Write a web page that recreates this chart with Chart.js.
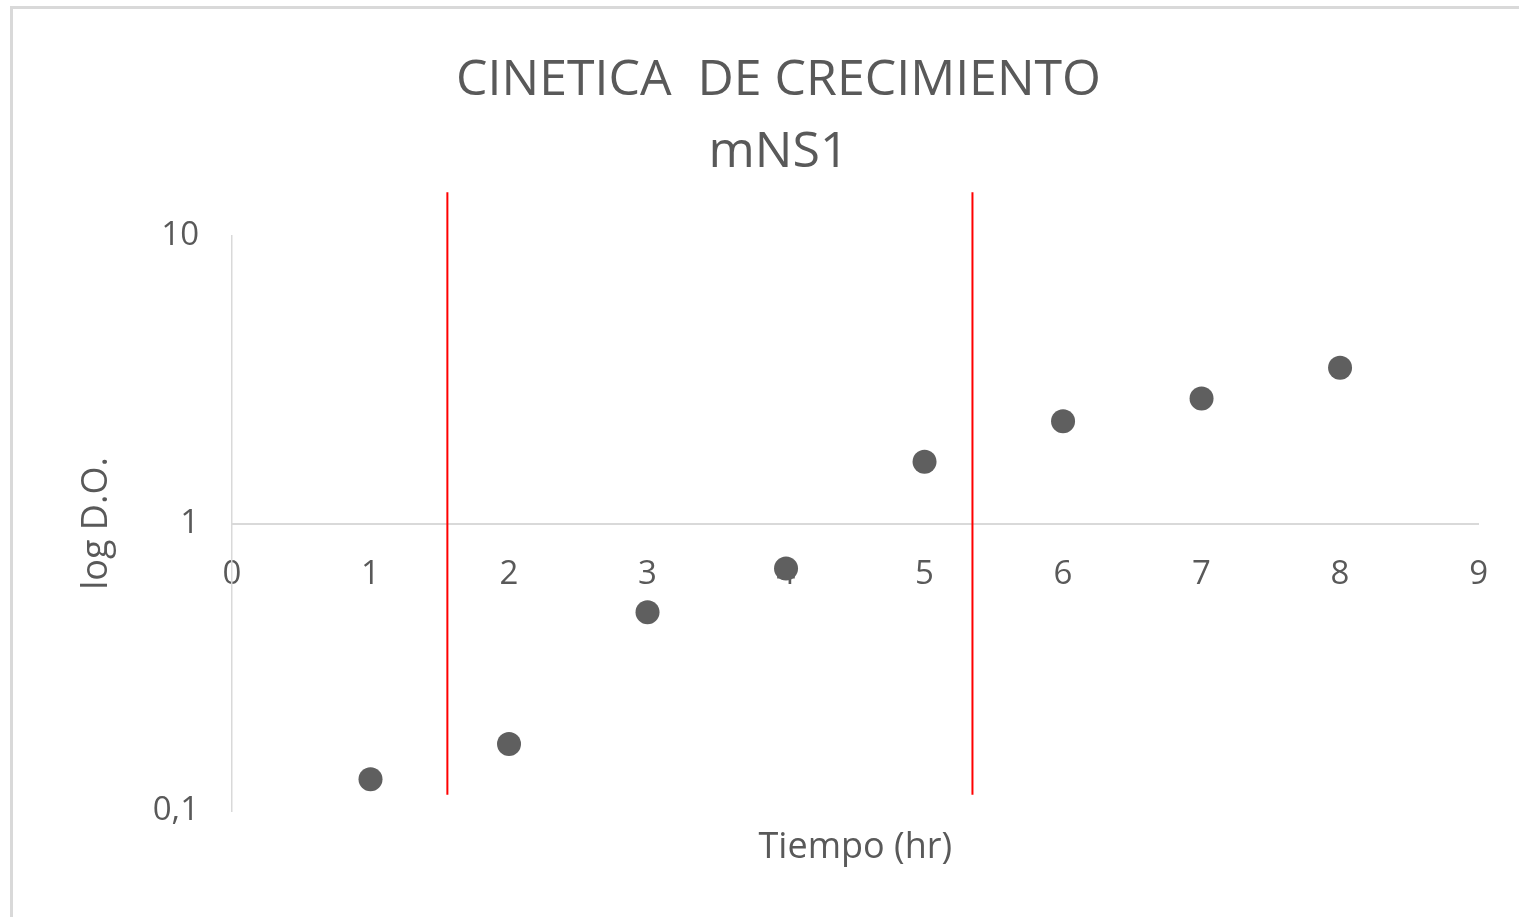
<!DOCTYPE html>
<html>
<head>
<meta charset="utf-8">
<script src="https://cdn.jsdelivr.net/npm/chart.js@4/dist/chart.umd.min.js"></script>
<style>
  html, body { margin: 0; padding: 0; background: #fff; overflow: hidden; }
  #frame {
    position: absolute; left: 10px; top: 6px;
    width: 1540px; height: 940px;
    border-left: 3px solid #d9d9d9; border-top: 3px solid #d9d9d9;
  }
</style>
</head>
<body>
<div id="frame"><canvas id="growth_chart" width="1506" height="908"></canvas></div>
<script>
// data
const time_hr = [1, 2, 3, 4, 5, 6, 7, 8];
const log_do = [0.129, 0.171, 0.491, 0.698, 1.64, 2.27, 2.72, 3.48];
const phase_limits = [1.555, 5.346];
const phase_span = [0.114, 14.2];
const x_ticks = [0, 1, 2, 3, 4, 5, 6, 7, 8, 9];
const y_ticks = [0.1, 1, 10];
const y_tick_labels = ["0,1", "1", "10"];

const grey = "#595959";
const axis_line = "#d9d9d9";
const font_family = "'Open Sans', sans-serif";

const points = time_hr.map((t, i) => ({ x: t, y: log_do[i] }));

const phase_sets = phase_limits.map((x) => ({
  type: "line",
  data: phase_span.map((y) => ({ x: x, y: y })),
  borderColor: "#ff0000",
  borderWidth: 2,
  pointRadius: 0,
  showLine: true,
  clip: false,
}));

const growth_ctx = document.getElementById("growth_chart");

const growth_chart = new Chart(growth_ctx, {
  type: "scatter",
  data: {
    datasets: [
      {
        data: points,
        backgroundColor: "#5f5f5f",
        borderWidth: 0,
        pointRadius: 12,
        pointHoverRadius: 12,
      },
      ...phase_sets,
    ],
  },
  options: {
    responsive: false,
    animation: false,
    devicePixelRatio: 1,
    layout: {
      padding: { left: 56, right: 31, top: 0, bottom: 106 },
    },
    plugins: {
      legend: { display: false },
      tooltip: { enabled: false },
      title: {
        display: true,
        text: ["CINETICA  DE CRECIMIENTO", "mNS1"],
        color: grey,
        font: { family: font_family, size: 50, weight: "normal", lineHeight: 1.44 },
        padding: { top: 36, bottom: 47 },
      },
    },
    scales: {
      x: {
        type: "linear",
        position: { y: 1 },
        min: 0,
        max: 9,
        afterBuildTicks: (scale) => {
          scale.ticks = x_ticks.map((v) => ({ value: v }));
        },
        ticks: {
          autoSkip: false,
          color: grey,
          padding: 31,
          font: { family: font_family, size: 33 },
        },
        grid: { display: false, drawTicks: false },
        border: { display: true, color: axis_line, width: 2 },
        title: {
          display: true,
          text: "Tiempo (hr)",
          color: grey,
          font: { family: font_family, size: 36 },
          padding: { top: 201, bottom: 0 },
        },
      },
      y: {
        type: "logarithmic",
        position: "left",
        min: 0.1,
        max: 10,
        afterBuildTicks: (scale) => {
          scale.ticks = y_ticks.map((v) => ({ value: v }));
        },
        afterFit: (scale) => {
          scale.width = 163;
        },
        ticks: {
          color: grey,
          padding: 33,
          font: { family: font_family, size: 33 },
          callback: (value) => y_tick_labels[y_ticks.indexOf(value)],
        },
        grid: { display: false, drawTicks: false },
        border: { display: true, color: axis_line, width: 1.5 },
        title: {
          display: true,
          text: "log D.O.",
          color: grey,
          font: { family: font_family, size: 36 },
          padding: { top: 6, bottom: 0 },
        },
      },
    },
  },
});
</script>
</body>
</html>
